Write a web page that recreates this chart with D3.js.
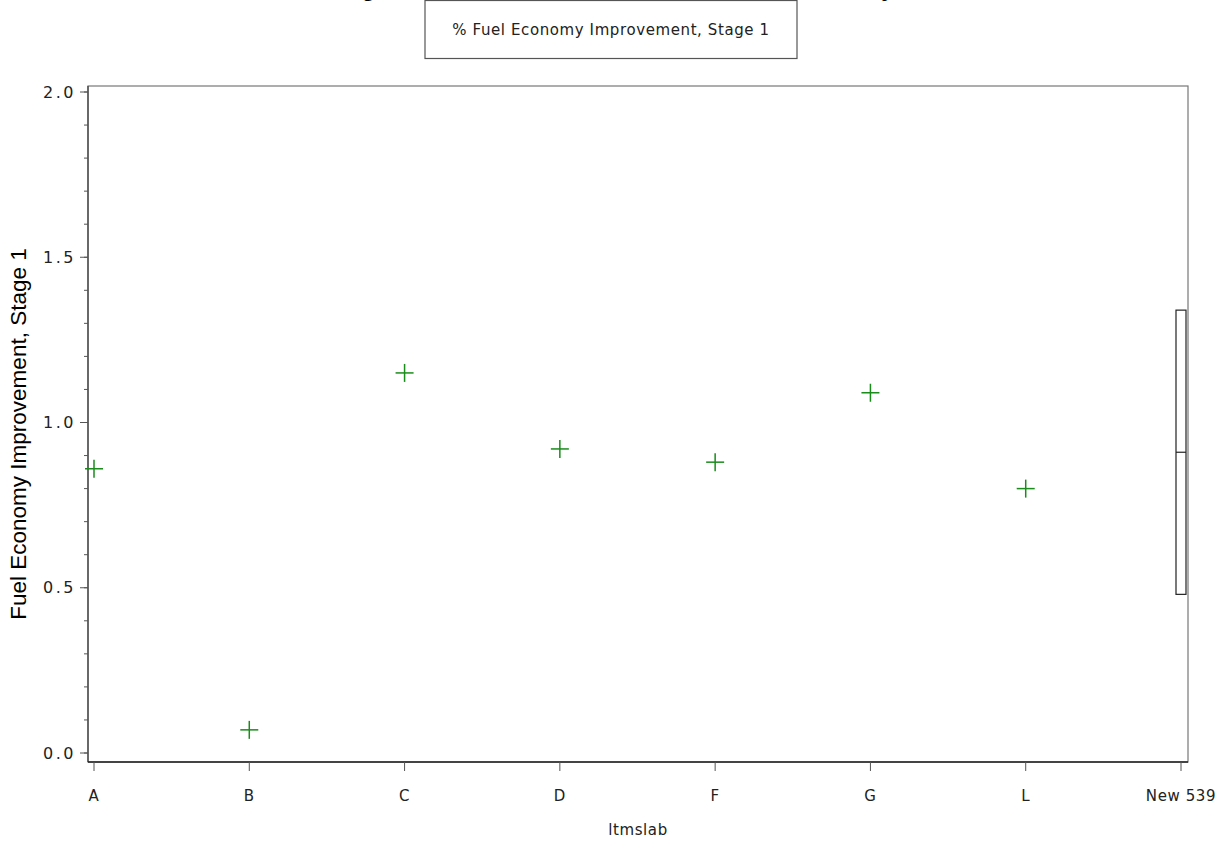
<!DOCTYPE html>
<html>
<head>
<meta charset="utf-8">
<script src="https://cdn.jsdelivr.net/npm/d3@7"></script>
<style>
  body { margin: 0; background: #fff; }
  text { font-family: "Liberation Sans", Arial, sans-serif; }
  .small { font-family: "DejaVu Sans", sans-serif; font-size: 15px; letter-spacing: 0.6px; fill: #222; }
</style>
</head>
<body>
<div id="chart"></div>
<script>
// lab categories along the x axis
const labs = ['A', 'B', 'C', 'D', 'F', 'G', 'L', 'New 539'];
// % fuel economy improvement, stage 1, per lab
const labPoints = ['A', 'B', 'C', 'D', 'F', 'G', 'L'];
const improvement = [0.86, 0.07, 1.15, 0.92, 0.88, 1.09, 0.80];
// box for the New 539 column: low, median, high
const boxLab = 'New 539';
const boxStats = [0.48, 0.91, 1.34];
const yTicks = [0.0, 0.5, 1.0, 1.5, 2.0];

const width = 1218, height = 842;
const frame = { left: 88, right: 1188, top: 86, bottom: 762 };

const svg = d3.select('#chart').append('svg')
    .attr('width', width)
    .attr('height', height);

const x = d3.scalePoint()
    .domain(labs)
    .range([94, 1181]);

const y = d3.scaleLinear()
    .domain([0, 2])
    .range([753, 92]);

// title, mostly pushed off the top of the page (only descenders show)
svg.append('text')
    .attr('x', 572)
    .attr('y', -4)
    .attr('text-anchor', 'middle')
    .style('font-size', '23.5px')
    .style('font-weight', 'bold')
    .text('Lab Averages Relative to the Reference Oil Fuel Economy');

// frame
svg.append('rect')
    .attr('x', frame.left)
    .attr('y', frame.top)
    .attr('width', frame.right - frame.left)
    .attr('height', frame.bottom - frame.top)
    .style('fill', 'none')
    .style('stroke', '#777')
    .style('stroke-width', 1.2);

// y axis with minor ticks
const yAxis = svg.append('g')
    .attr('transform', `translate(${frame.left},0)`);
yAxis.append('line')
    .attr('y1', frame.top).attr('y2', frame.bottom)
    .style('stroke', '#444').style('stroke-width', 1.3);
yAxis.selectAll('.minor')
    .data(d3.range(0, 2.001, 0.1))
    .enter().append('line')
    .attr('class', 'minor')
    .attr('x1', -4).attr('x2', 0)
    .attr('y1', d => y(d)).attr('y2', d => y(d))
    .style('stroke', '#555');
yAxis.selectAll('.major')
    .data(yTicks)
    .enter().append('line')
    .attr('class', 'major')
    .attr('x1', -8).attr('x2', 0)
    .attr('y1', d => y(d)).attr('y2', d => y(d))
    .style('stroke', '#555');
yAxis.selectAll('.ylab')
    .data(yTicks)
    .enter().append('text')
    .attr('class', 'ylab small')
    .attr('x', -12)
    .attr('y', d => y(d))
    .attr('dy', '0.35em')
    .attr('text-anchor', 'end')
    .style('font-size', '16px')
    .style('letter-spacing', '2.5px')
    .text(d => d.toFixed(1));

// x axis
const xAxis = svg.append('g')
    .attr('transform', `translate(0,${frame.bottom})`);
xAxis.append('line')
    .attr('x1', frame.left).attr('x2', frame.right)
    .style('stroke', '#222').style('stroke-width', 1.3);
xAxis.selectAll('.xtick')
    .data(labs)
    .enter().append('line')
    .attr('class', 'xtick')
    .attr('x1', d => x(d)).attr('x2', d => x(d))
    .attr('y1', 0).attr('y2', 9)
    .style('stroke', '#555');
xAxis.selectAll('.xlab')
    .data(labs)
    .enter().append('text')
    .attr('class', 'xlab small')
    .attr('x', d => x(d))
    .attr('y', 39)
    .attr('text-anchor', 'middle')
    .text(d => d);

// axis titles
svg.append('text')
    .attr('class', 'small')
    .attr('x', (frame.left + frame.right) / 2)
    .attr('y', 835)
    .attr('text-anchor', 'middle')
    .text('ltmslab');

svg.append('text')
    .attr('transform', 'translate(26,434) rotate(-90)')
    .attr('text-anchor', 'middle')
    .style('font-size', '22.5px')
    .text('Fuel Economy Improvement, Stage 1');

// crosses for each lab
const half = 9;
const crosses = svg.selectAll('.pt')
    .data(labPoints.map((d, i) => ({ lab: d, v: improvement[i] })))
    .enter().append('g')
    .attr('class', 'pt')
    .attr('transform', d => `translate(${x(d.lab)},${y(d.v)})`);
crosses.append('line')
    .attr('x1', -half).attr('x2', half)
    .style('stroke', '#1a8c1a').style('stroke-width', 1.5);
crosses.append('line')
    .attr('y1', -half).attr('y2', half)
    .style('stroke', '#1a8c1a').style('stroke-width', 1.5);

// box for New 539
const bx = x(boxLab), bw = 10;
svg.append('rect')
    .attr('x', bx - bw / 2)
    .attr('y', y(boxStats[2]))
    .attr('width', bw)
    .attr('height', y(boxStats[0]) - y(boxStats[2]))
    .style('fill', '#fff')
    .style('stroke', '#222')
    .style('stroke-width', 1.2);
svg.append('line')
    .attr('x1', bx - bw / 2).attr('x2', bx + bw / 2)
    .attr('y1', y(boxStats[1])).attr('y2', y(boxStats[1]))
    .style('stroke', '#222')
    .style('stroke-width', 1.2);

// legend box on top of the title
svg.append('rect')
    .attr('x', 425)
    .attr('y', 0.5)
    .attr('width', 372)
    .attr('height', 58)
    .style('fill', '#fff')
    .style('stroke', '#555')
    .style('stroke-width', 1.2);
svg.append('text')
    .attr('class', 'small')
    .attr('x', 611)
    .attr('y', 35)
    .attr('text-anchor', 'middle')
    .text('% Fuel Economy Improvement, Stage 1');
</script>
</body>
</html>
